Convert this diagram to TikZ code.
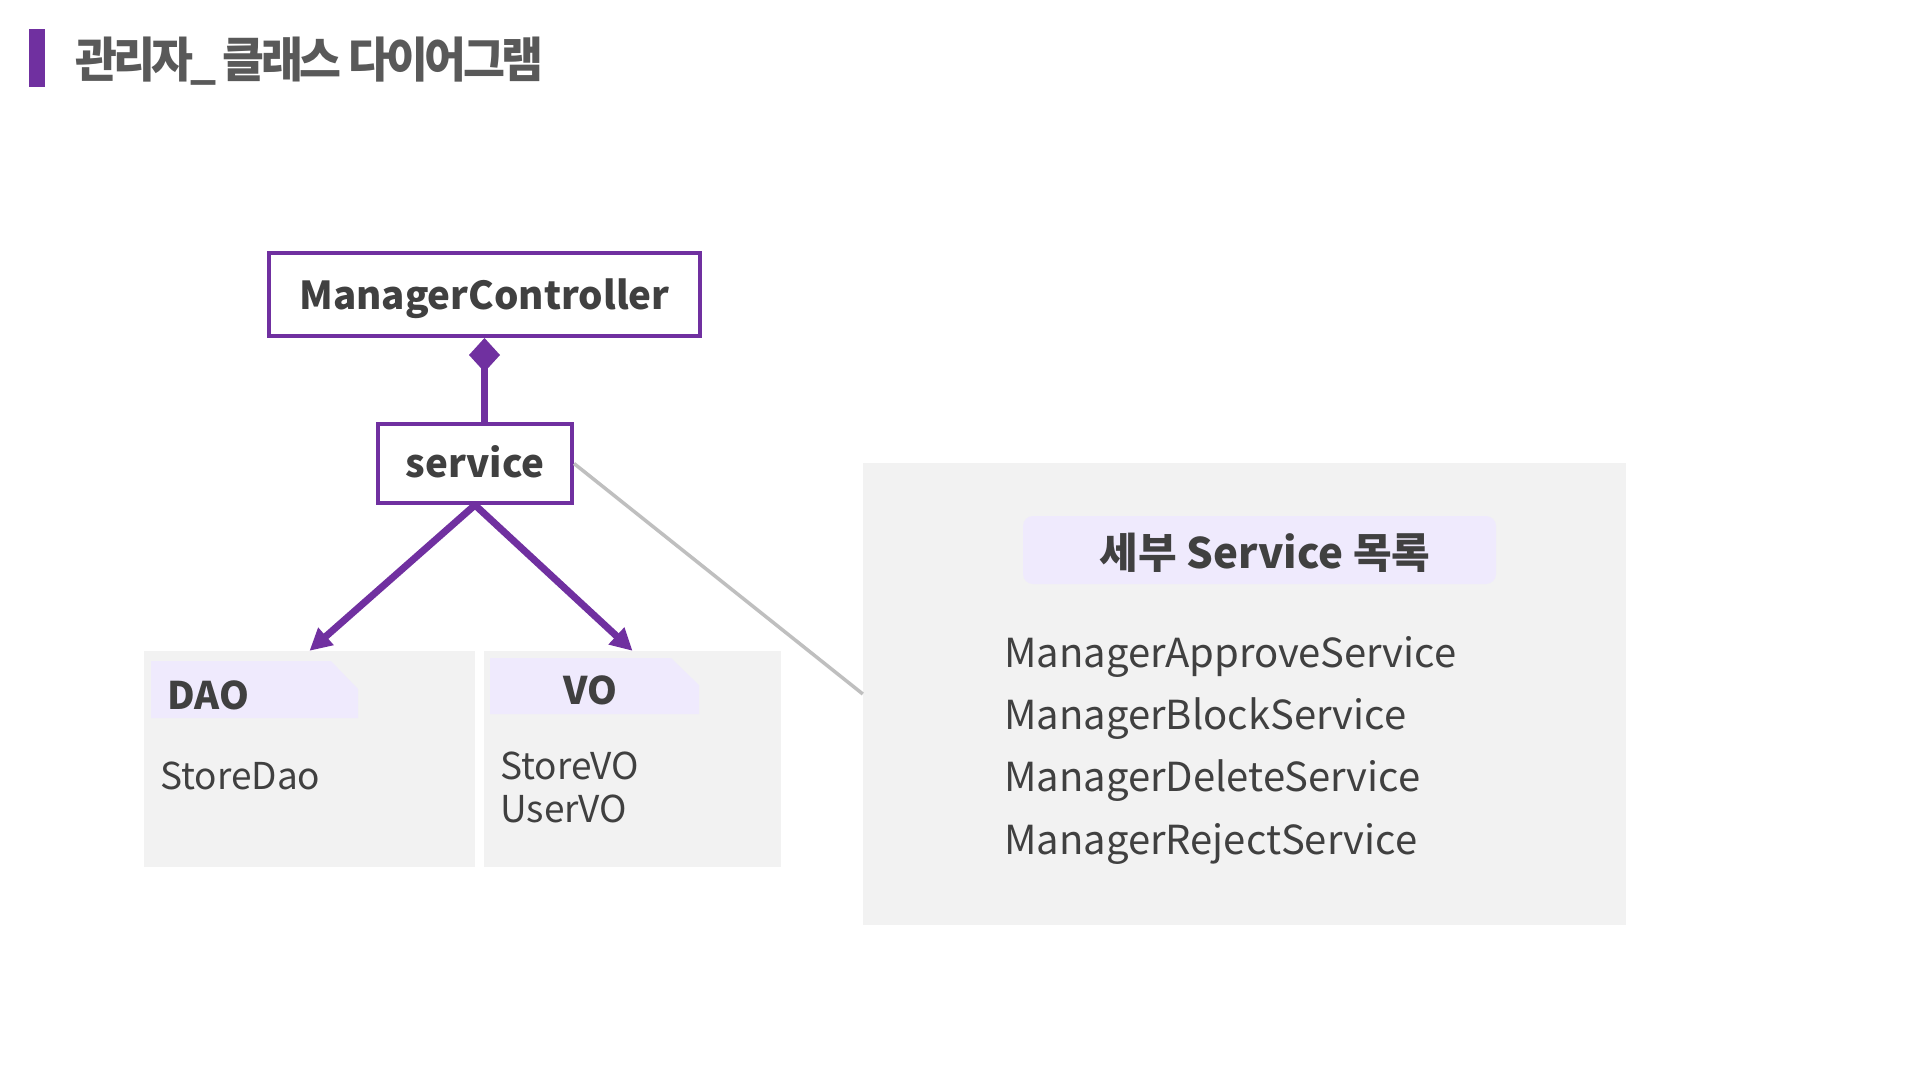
\documentclass[tikz,border=0pt]{standalone}
\usepackage{fontspec}
\setmainfont{Noto Sans CJK KR}
\usetikzlibrary{arrows.meta}
\definecolor{purp}{HTML}{7030A0}
\definecolor{txt}{HTML}{404040}
\definecolor{panelc}{HTML}{F2F2F2}
\definecolor{tabc}{HTML}{EFEAFD}
\definecolor{titlec}{HTML}{595959}
\definecolor{connc}{HTML}{BFBFBF}
\begin{document}
\begin{tikzpicture}[x=1pt,y=-1pt,
  classbox/.style={draw=purp, line width=4pt, fill=white, inner sep=0pt},
  classtext/.style={text=txt, font=\fontsize{38.5}{46}\selectfont\bfseries, inner sep=0pt},
  panelbox/.style={fill=panelc, inner sep=0pt},
  tabtext/.style={text=txt, font=\fontsize{38}{46}\selectfont\bfseries, inner sep=0pt},
  itemtext/.style={text=txt, font=\fontsize{37}{44}\selectfont, inner sep=0pt},
  listtext/.style={text=txt, font=\fontsize{40}{48}\selectfont, inner sep=0pt},
  link/.style={draw=purp, line width=7pt},
]
\useasboundingbox[fill=white] (0,0) rectangle (1920,1080);
% title
\fill[purp] (29,29) rectangle (45,87);
\node[anchor=west, text=titlec, inner sep=0pt,
  font=\fontsize{48}{56}\selectfont\bfseries\addfontfeature{LetterSpace=-8}] (title) at (75,61)
  {\scalebox{0.95}[1]{관리자\_ 클래스 다이어그램}};
% class boxes
\node[classbox, minimum width=431, minimum height=83] (mc) at (484.5,294.5) {};
\node[classtext, anchor=base] (mct) at (484.5,309) {ManagerController};
\node[classbox, minimum width=194, minimum height=79] (svc) at (475,463.5) {};
\node[classtext, anchor=base] (svct) at (475,477) {service};
% panels
\node[panelbox, minimum width=331, minimum height=216] (dao) at (309.5,759) {};
\node[panelbox, minimum width=297, minimum height=216] (vo) at (632.5,759) {};
\node[panelbox, minimum width=763, minimum height=462] (rp) at (1244.5,694) {};
% tabs
\fill[tabc] (151,661) -- (331,661) -- (358,689) -- (358,718) -- (151,718) -- cycle;
\fill[tabc] (490,658) -- (671,658) -- (699,685) -- (699,714) -- (490,714) -- cycle;
\node[tabtext, anchor=base west] (daot) at (167,709) {DAO};
\node[tabtext, anchor=base] (vot) at (590,704) {VO};
\node[itemtext, anchor=base west] (daoi) at (160,789) {StoreDao};
\node[itemtext, anchor=base west] (voi1) at (500,779) {StoreVO};
\node[itemtext, anchor=base west] (voi2) at (500,822) {UserVO};
% header
\node[fill=tabc, rounded corners=10pt, minimum width=473, minimum height=68, inner sep=0pt] (hdr) at (1259.5,550) {};
\node[anchor=base, text=txt, font=\fontsize{42}{50}\selectfont\bfseries, inner sep=0pt] (hdrt) at (1265,568) {세부 Service 목록};
\node[listtext, anchor=base west] (s1) at (1004,667) {ManagerApproveService};
\node[listtext, anchor=base west] (s2) at (1004,729) {ManagerBlockService};
\node[listtext, anchor=base west] (s3) at (1004,791.5) {ManagerDeleteService};
\node[listtext, anchor=base west] (s4) at (1004,854) {ManagerRejectService};
% connectors
\draw[connc, line width=3.5pt] (svc.east) -- (rp.west);
\draw[link, -{Diamond[length=34pt,width=31pt]}] (mc.south |- svc.north) -- (mc.south);
\draw[link, -{Triangle[length=22pt,width=22pt]}] (svc.south) -- (dao.north);
\draw[link, -{Triangle[length=22pt,width=22pt]}] (svc.south) -- (vo.north);
\end{tikzpicture}
\end{document}
